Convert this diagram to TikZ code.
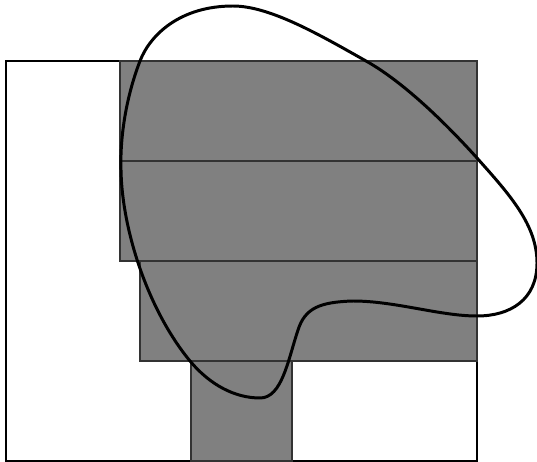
\documentclass[tikz,border=0pt]{standalone}
\begin{document}
\begin{tikzpicture}[x=0.02cm, y=-0.02cm, cell/.style={fill=gray, draw=black!80, line width=0.6pt}]
    \useasboundingbox (0,0) rectangle (537,462);
    % outer frame
    \draw[line width=0.7pt] (6,61) rectangle (477,461);
    % shaded cells
    \draw[cell] (120,61) rectangle (477,161);
    \draw[cell] (120,161) rectangle (477,261);
    \draw[cell] (140,261) rectangle (477,361);
    \draw[cell] (191,361) rectangle (292,461);
    % closed curve
    \draw[line width=1.7pt]
        (233,6) .. controls (180,6) and (150,35) .. (140,61)
        .. controls (125,100) and (120,140) .. (121,170)
        .. controls (122,230) and (148,310) .. (190,361)
        .. controls (210,385) and (235,398) .. (260,398)
        .. controls (282,398) and (288,360) .. (298,330)
        .. controls (305,308) and (320,302) .. (353,301)
        .. controls (395,301) and (440,316) .. (477,316)
        .. controls (510,316) and (537,300) .. (537,263)
        .. controls (537,225) and (510,195) .. (477,158)
        .. controls (440,117) and (400,80) .. (366,61)
        .. controls (320,35) and (270,6) .. (233,6) -- cycle;
\end{tikzpicture}
\end{document}
